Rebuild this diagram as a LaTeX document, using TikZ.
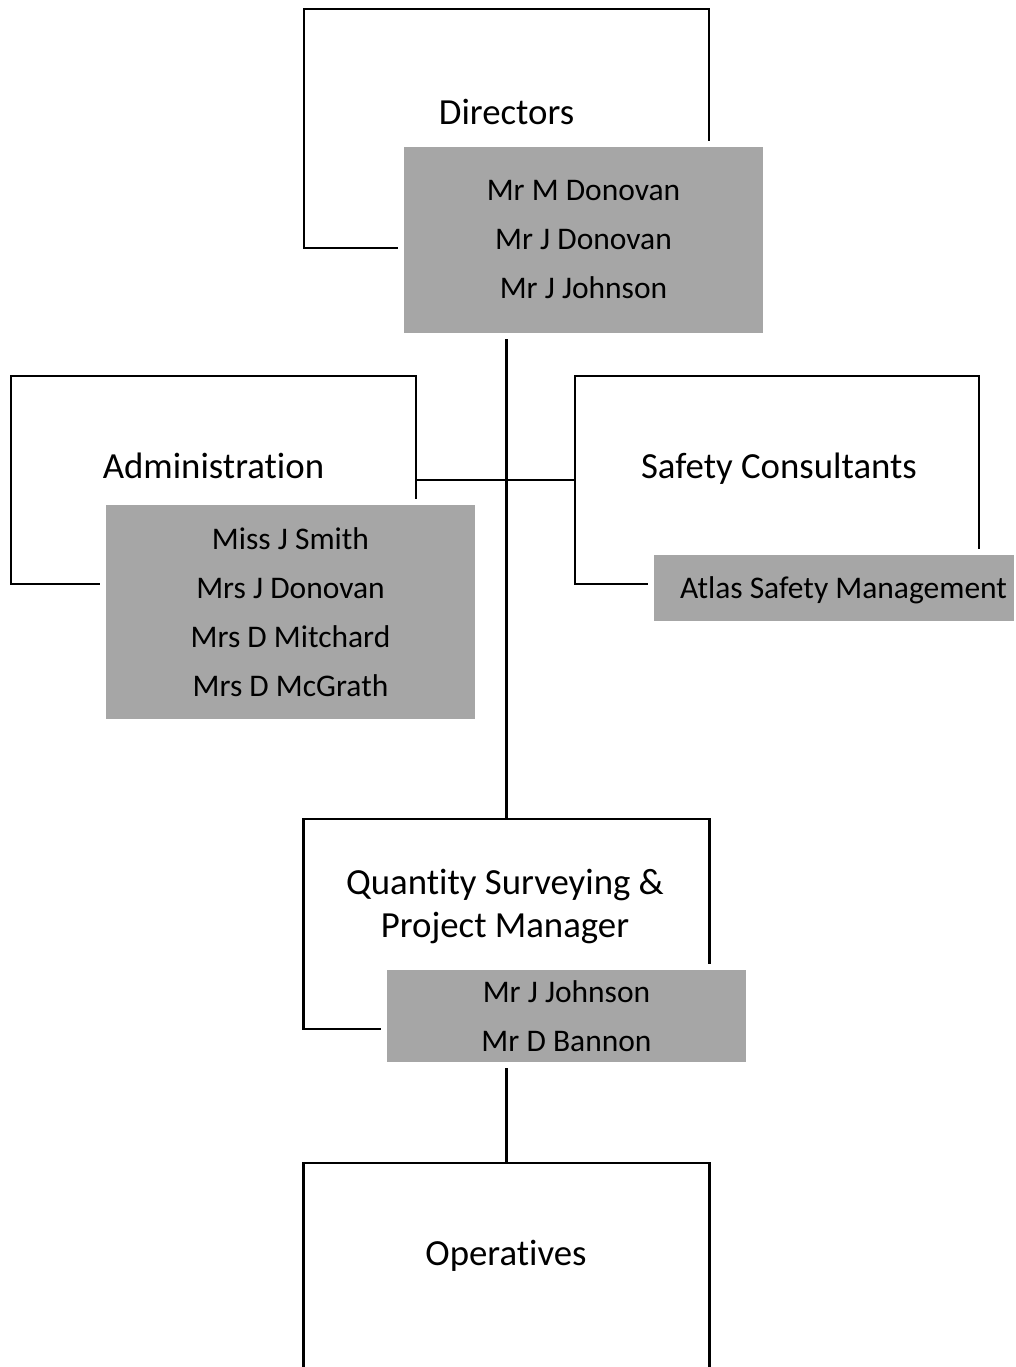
\documentclass[tikz,border=0pt]{standalone}
\usepackage{fontspec}
\setmainfont{Carlito}[Ligatures={NoCommon}]
\definecolor{boxgray}{HTML}{A6A6A6}
\begin{document}
\begin{tikzpicture}[x=1pt,y=-1pt,
  unit/.style={draw=black, line width=2.8pt, fill=white, inner sep=0pt, rectangle},
  people/.style={fill=boxgray, draw=white, line width=6pt, inner sep=0pt, align=center,
                 font=\fontsize{31.5}{49}\selectfont},
  ptext/.style={inner sep=0pt, font=\fontsize{31.5}{49}\selectfont},
  title/.style={anchor=base, inner sep=0pt, align=center, font=\fontsize{36.8}{43}\selectfont},
  link/.style={draw=black, line width=2.8pt}]
\clip (0,0) rectangle (1016,1367);
\fill[white] (0,0) rectangle (1016,1367);
% units
\node[unit, minimum width=405pt, minimum height=239pt] (dir) at (506.5,128.5) {};
\node[unit, minimum width=405pt, minimum height=208pt] (adm) at (213.5,480) {};
\node[unit, minimum width=404pt, minimum height=208pt] (saf) at (777,480) {};
\node[unit, minimum width=406pt, minimum height=210pt] (qs) at (506.5,924) {};
\node[unit, minimum width=406pt, minimum height=274pt] (ops) at (506.5,1300) {};
% titles
\node[title] (dirt) at (506.5,125) {Directors};
\node[title] (admt) at (213.5,478) {Administration};
\node[title] (saft) at (779,478) {Safety Consultants};
\node[title] (qst) at (505,937) {Quantity Surveying \&\\Project Manager};
\node[title] (opst) at (506,1265) {Operatives};
% people boxes
\node[people, minimum width=365pt, minimum height=192pt] (dirg) at (583.5,240)
  {Mr M Donovan\\Mr J Donovan\\Mr J Johnson};
\node[people, minimum width=375pt, minimum height=220pt] (admg) at (290.5,612)
  {Miss J Smith\\Mrs J Donovan\\Mrs D Mitchard\\Mrs D McGrath};
\node[people, minimum width=366pt, minimum height=72pt] (safg) at (834,588) {};
\node[ptext, anchor=base] (safn) at (843.5,598) {Atlas Safety Management};
\node[people, minimum width=365pt, minimum height=98pt] (qsg) at (566.5,1016)
  {Mr J Johnson\\Mr D Bannon};
% connectors
\draw[link] (dir.south |- dirg.south) -- (qs.north);
\draw[link] (adm.east) -- (saf.west);
\draw[link] (qs.south |- qsg.south) -- (ops.north);
\end{tikzpicture}
\end{document}
